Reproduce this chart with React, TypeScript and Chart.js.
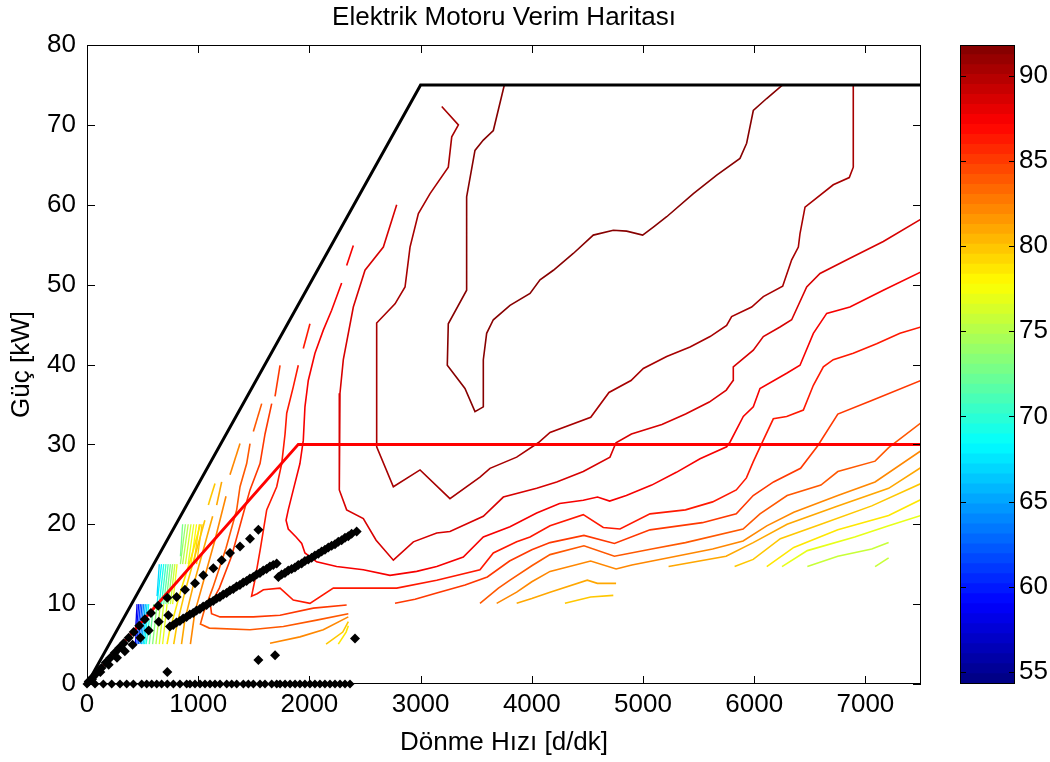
import React, { useEffect, useRef } from "react";
import { Chart, registerables } from "chart.js";
Chart.register(...registerables);

const FONT = "'Liberation Sans', Arial, Helvetica, sans-serif";
const FONT_SIZE = 26;
const TITLE = "Elektrik Motoru Verim Haritası";
const X_LABEL = "Dönme Hızı [d/dk]";
const Y_LABEL = "Güç [kW]";
const X_TICKS = [0, 1000, 2000, 3000, 4000, 5000, 6000, 7000];
const Y_TICKS = [0, 10, 20, 30, 40, 50, 60, 70, 80];
const CBAR_TICKS = [55, 60, 65, 70, 75, 80, 85, 90];
const CMIN = 54.3;
const CMAX = 91.8;

// envelopes (rpm, kW)
const maxPowerEnvelope = [[0, 0], [3000, 75], [7500, 75]];
const contPowerEnvelope = [[0, 0], [1900, 30], [7500, 30]];

// contour pieces (rpm, kW)
const cA = [[3753,75],[3654,69.3],[3564,68.1],[3489,66.8],[3414,61],[3414,49.3],[3249,45.1],[3240,39.9],[3399,37],[3489,34.1],[3564,34.7],[3564,40.6],[3594,43.9],[3654,45.6],[3804,47.4],[3984,48.9],[4074,50.6],[4194,51.8],[4373,53.9],[4553,56.2],[4733,56.8],[4853,56.7],[4997,56.2],[5093,57.2],[5213,58.5],[5453,61.4],[5663,63.7],[5872,65.8],[5932,67.7],[5992,71.8],[6112,73.3],[6256,75]];
const cB = [[6891,75],[6891,64.7],[6855,63.4],[6711,62.5],[6457,59.7],[6412,56.4],[6397,54.7],[6337,53.1],[6256,49.8],[6082,48.5],[5977,47.2],[5797,46],[5752,44.9],[5603,43.5],[5423,42.2],[5213,41],[5003,39.5],[4892,38],[4694,36.5],[4530,33.4],[4164,31.5],[4058,30.2],[3864,28.4],[3624,27],[3534,25.9],[3264,23.2],[2995,26.8],[2755,24.7],[2605,29.7],[2605,45.2],[2770,47.6],[2860,49.7],[2905,54.7],[2980,58.9],[3085,61.4],[3249,64.7],[3280,68.5],[3340,70],[3190,72.3]];
const cC = [[2785,60],[2665,54.7],[2500,51.8],[2395,47.2],[2305,40.6],[2275,36.4],[2269,30],[2269,24.3],[2335,21.8],[2485,20.7],[2600,18],[2755,15.5],[2935,17.8],[3145,18.9],[3264,19.1],[3564,21],[3744,23.4],[4044,24.5],[4224,25.3],[4463,26.6],[4703,28.4],[4757,30.2],[4896,31.3],[5170,32.5],[5383,33.8],[5596,35.3],[5749,36.8],[5810,38],[5812,39.7],[5992,41.8],[6082,43.5],[6232,44.7],[6337,45.6],[6472,49.7],[6592,51.4],[6861,53.3],[7161,55.4],[7500,58.2]];
const cD1 = [[2395,54.9],[2335,52.4]];
const cD2 = [[2290,50.2],[2200,46.8],[2125,44.3],[2050,41.4],[1990,38],[1960,34.7],[1945,30.5],[1915,27.6],[1855,24.3],[1810,21.8],[1790,20.5],[1810,19.4],[1880,18.4],[1931,17.6],[1960,16.4],[2065,15.3],[2245,14.7],[2485,14.3],[2725,13.6],[2965,14.1],[3145,14.7],[3384,15.9],[3564,18.4],[3804,19.7],[4044,21.4],[4250,22.6],[4463,23.0],[4591,23.4],[4700,22.9],[4850,23.6],[5078,24.9],[5300,26.5],[5513,28.2],[5752,29.7],[5783,30.3],[5902,33.5],[5992,34.7],[6052,37],[6292,38.9],[6412,39.9],[6532,43.9],[6652,46.4],[6861,47.2],[7161,49.3],[7500,51.6]];
const cE1 = [[2005,45.1],[1945,42]];
const cE2 = [[1900,39.9],[1855,37.2],[1796,33.9],[1781,31.3],[1751,27.6],[1706,24.7],[1616,21.8],[1560,17],[1510,13],[1480,11],[1530,11.3],[1586,11.8],[1736,12],[1855,10.5],[2005,10.1],[2215,12],[2785,12],[3145,13],[3534,14.3],[3654,16.4],[3864,17.8],[3984,18.4],[4164,19.8],[4463,21.2],[4643,19.6],[4793,19.4],[5063,21.3],[5382,21.8],[5626,22.8],[5839,24.3],[5930,25.8],[5991,27.8],[6067,30.1],[6172,33.2],[6292,33.5],[6442,34.3],[6532,37.4],[6622,39.7],[6711,40.6],[6891,41.4],[7101,42.6],[7311,43.9],[7500,44.7]];
const cF1 = [[1736,39.9],[1691,36]];
const cF2 = [[1661,35.1],[1601,31.3],[1556,27.6],[1466,24.3],[1409,21.5],[1300,16],[1190,12],[1110,9.9],[1120,8.8],[1196,8.4],[1496,8.4],[1736,8.6],[2035,9.5],[2335,9.9]];
const cF3 = [[2770,10.1],[2950,10.6],[3145,11.4],[3400,12.4],[3600,13.4],[3800,15.4],[4000,16.8],[4164,17.7],[4469,18.6],[4743,17.6],[5063,19.3],[5534,20.2],[5839,21.3],[5991,23.6],[6174,25.3],[6417,27],[6570,29.8],[6752,33.8],[7057,35.5],[7500,38]];
const cG1 = [[1571,35.1],[1496,31.6]];
const cG2 = [[1466,30.1],[1436,27.6],[1376,24.7],[1346,21.8],[1250,17],[1130,12],[1050,9],[1020,7.5],[1100,7],[1466,6.8],[1766,7.2],[2065,8],[2350,8.8]];
const cG3 = [[3534,10.1],[3700,12],[3804,13],[4000,14.8],[4164,16.2],[4469,17.3],[4743,16],[5078,16.9],[5382,17.7],[5900,19.4],[6052,21.3],[6296,23.6],[6600,24.9],[6752,26.6],[7087,27.9],[7209,29.6],[7500,32.7]];
const cH1 = [[1376,30.1],[1286,26.2]];
const cH2 = [[1250,23.5],[1150,18],[1050,13],[970,9],[930,5]];
const cH3 = [[1646,5.1],[1915,5.9],[2125,6.8],[2350,8.4]];
const cH4 = [[3684,10.1],[3864,11.5],[4000,12.8],[4164,14.1],[4529,15.4],[4758,14.4],[4900,14.9],[5230,15.8],[5626,16.9],[5900,17.9],[6113,19.8],[6356,21.5],[6752,23.6],[7087,25.3],[7500,29.2]];
const cI1 = [[1211,25.3],[1166,22.4]];
const cI2 = [[1130,21],[1050,17],[950,12],[880,8],[850,5]];
const cI3 = [[3864,10.1],[4000,10.7],[4164,11.5],[4499,13],[4590,12.6],[4758,12.6]];
const cI4 = [[5230,14.7],[5747,16],[5991,17.7],[6296,20.0],[6752,22.3],[7209,24.5],[7500,27.1]];
const cJ1 = [[1151,25.1],[1091,22.4]];
const cJ2 = [[1060,20.5],[980,16.5],[880,11.5],[810,7.5],[780,5]];
const cJ3 = [[4298,10.1],[4529,10.9],[4733,11.1]];
const cJ4 = [[5824,14.7],[5991,15.6],[6235,18.2],[6600,20.0],[7057,22.3],[7500,25.1]];
const cJ5 = [[2150,5],[2300,6.5],[2350,7.8]];
const cK1 = [[1020,20],[940,16],[850,12],[740,6.5],[720,5]];
const cK2 = [[6113,14.7],[6356,17.1],[6752,19.3],[7209,21.1],[7500,23.1]];
const cK3 = [[2260,5],[2330,6.5],[2350,7.3]];
const cL1 = [[6250,14.7],[6478,16.7],[6904,18.4],[7209,19.8],[7500,21.1]];
const cM1 = [[6478,14.7],[6752,16],[7057,16.9],[7209,17.7]];
const cM2 = [[7087,14.7],[7209,15.8]];

// contour level of each piece (efficiency, %)
const contourTable: [number, number[][]][] = [
  [91.4, cA], [90.1, cB], [88.8, cC],
  [87.5, cD1], [87.5, cD2],
  [86.2, cE1], [86.2, cE2],
  [84.9, cF1], [84.9, cF2], [84.9, cF3],
  [83.6, cG1], [83.6, cG2], [83.6, cG3],
  [82.3, cH1], [82.3, cH2], [82.3, cH3], [82.3, cH4],
  [81.0, cI1], [81.0, cI2], [81.0, cI3], [81.0, cI4],
  [79.7, cJ1], [79.7, cJ2], [79.7, cJ3], [79.7, cJ4], [79.7, cJ5],
  [78.4, cK1], [78.4, cK2], [78.4, cK3],
  [77.1, cL1], [75.8, cM1], [75.8, cM2],
];

// short contour segments in the low-speed corner cells: x0, y0, x1, y1, level
const cornerSegments = [
  [434,6,450,10,58],[434,5,465,10,59.5],[448,5,480,10,61],[462,5,495,10,62.5],[476,5,510,10,64],[490,5,525,10,65.5],[504,5,540,10,67],[518,5,555,10,68.5],[532,5,560,8,70],
  [560,5,600,10,72],[590,5,630,10,73.5],[620,5,660,10,75],[650,5,690,10,76],[680,5,720,10,77],
  [630,11,650,15,67],[630,10,670,15,68.2],[650,10,690,15,69.4],[670,10,710,15,70.6],[690,10,730,15,71.8],[710,10,750,15,73],[730,10,770,15,74.2],[750,10,790,15,75.4],[770,10,810,15,76.6],
  [840,16,860,20,73],[840,15,885,20,74],[860,15,910,20,75],[885,15,935,20,76],[910,15,960,20,77],[935,15,985,20,78],[960,15,1010,20,79],[985,15,1035,20,80],
];

// operating points (rpm, kW)
const zeroLoadSpeeds = [0,72,147,222,297,357,417,492,537,582,627,671,722,777,836,896,926,971,1016,1061,1106,1151,1196,1256,1301,1346,1406,1451,1496,1556,1601,1661,1706,1736,1781,1826,1871,1915,1960,2005,2050,2095,2140,2185,2230,2275,2320,2365];
const pointsUpper = [[15,0.3],[50,0.8],[90,1.4],[130,2.0],[170,2.7],[210,3.3],[250,3.9],[290,4.5],[330,5.1],[375,5.8],[420,6.5],[470,7.3],[520,8.1],[575,8.9],[641,9.8],[722,10.8],[806,10.9],[881,11.8],[971,12.6],[1046,13.6],[1136,14.5],[1211,15.5],[1286,16.4],[1376,17.2],[1466,18.2],[1541,19.3]];
const pointsLower = [[45,0.6],[120,1.5],[195,2.4],[270,3.3],[340,4.1],[410,4.9],[480,5.8],[555,6.7],[645,7.8],[731,8.6]];
const pointsBandA = [[746,7.2],[775,7.4],[805,7.7],[835,7.9],[865,8.2],[895,8.4],[925,8.7],[955,8.9],[985,9.2],[1015,9.4],[1045,9.7],[1075,9.9],[1105,10.2],[1135,10.4],[1165,10.7],[1195,10.9],[1225,11.2],[1255,11.4],[1285,11.7],[1315,11.9],[1345,12.2],[1375,12.4],[1405,12.7],[1435,12.9],[1465,13.2],[1495,13.4],[1525,13.7],[1555,13.9],[1585,14.2],[1615,14.4],[1645,14.7],[1675,14.9],[1706,15.1]];
const pointsBandB = [[1721,13.4],[1750,13.7],[1780,13.9],[1810,14.2],[1840,14.4],[1870,14.6],[1900,14.9],[1930,15.1],[1960,15.4],[1990,15.6],[2020,15.8],[2050,16.1],[2080,16.3],[2110,16.6],[2140,16.8],[2170,17.1],[2200,17.3],[2230,17.5],[2260,17.8],[2290,18.0],[2320,18.3],[2350,18.5],[2380,18.8],[2425,19.1]];
const pointsSingle = [[722,1.5],[1541,3.0],[1691,3.6],[2410,5.7]];

function jet(v: number): string {
  const t = (v - CMIN) / (CMAX - CMIN);
  const i = Math.max(0, Math.min(63, Math.floor(t * 64)));
  const s = (i + 0.5) / 64;
  const c = (u: number) => Math.round(255 * Math.max(0, Math.min(1, u)));
  return `rgb(${c(1.5 - Math.abs(4 * s - 3))},${c(1.5 - Math.abs(4 * s - 2))},${c(1.5 - Math.abs(4 * s - 1))})`;
}

const toXY = (arr: number[][]) => arr.map(([x, y]) => ({ x, y }));

const boxPlugin = {
  id: "boxTicks",
  afterDraw(chart: any) {
    const { ctx, chartArea: a, scales } = chart;
    ctx.save();
    ctx.fillStyle = "#000";
    ctx.font = `${FONT_SIZE}px ${FONT}`;
    ctx.textAlign = "center";
    ctx.textBaseline = "middle";
    ctx.fillText(TITLE, (a.left + a.right) / 2, 18);
    ctx.strokeStyle = "#000";
    ctx.lineWidth = 1;
    ctx.strokeRect(a.left + 0.5, a.top + 0.5, a.right - a.left - 1, a.bottom - a.top - 1);
    const L = 8;
    ctx.beginPath();
    X_TICKS.forEach((v) => {
      const x = Math.round(scales.x.getPixelForValue(v)) + 0.5;
      ctx.moveTo(x, a.bottom); ctx.lineTo(x, a.bottom - L);
      ctx.moveTo(x, a.top); ctx.lineTo(x, a.top + L);
    });
    Y_TICKS.forEach((v) => {
      const y = Math.round(scales.y.getPixelForValue(v)) + 0.5;
      ctx.moveTo(a.left, y); ctx.lineTo(a.left + L, y);
      ctx.moveTo(a.right, y); ctx.lineTo(a.right - L, y);
    });
    ctx.stroke();
    ctx.restore();
  },
};

const cbarPlugin = {
  id: "cbarBox",
  afterDraw(chart: any) {
    const { ctx, chartArea: a, scales } = chart;
    ctx.save();
    ctx.strokeStyle = "#000";
    ctx.lineWidth = 1;
    ctx.strokeRect(a.left + 0.5, a.top + 0.5, a.right - a.left - 1, a.bottom - a.top - 1);
    ctx.beginPath();
    CBAR_TICKS.forEach((v) => {
      const y = Math.round(scales.y.getPixelForValue(v)) + 0.5;
      ctx.moveTo(a.left, y); ctx.lineTo(a.left + 6, y);
      ctx.moveTo(a.right, y); ctx.lineTo(a.right - 6, y);
    });
    ctx.stroke();
    ctx.restore();
  },
};

export default function App() {
  const mainRef = useRef<HTMLCanvasElement>(null);
  const cbarRef = useRef<HTMLCanvasElement>(null);

  useEffect(() => {
    const tickFont = { family: FONT, size: FONT_SIZE };
    const scatterStyle = (data: number[][], r: number) => ({
      data: toXY(data),
      showLine: false,
      pointStyle: "rectRot",
      pointRadius: r,
      pointBackgroundColor: "#000",
      pointBorderColor: "#000",
      pointBorderWidth: 0,
      clip: false as any,
      order: 0,
    });
    const datasets: any[] = [
      scatterStyle(zeroLoadSpeeds.map((x) => [x, 0]), 4.5),
      scatterStyle(pointsUpper, 5),
      scatterStyle(pointsLower, 5),
      scatterStyle(pointsBandA, 5),
      scatterStyle(pointsBandB, 5),
      scatterStyle(pointsSingle, 5),
      { data: toXY(maxPowerEnvelope), showLine: true, borderColor: "#000", borderWidth: 3, pointRadius: 0, order: 1 },
      { data: toXY(contPowerEnvelope), showLine: true, borderColor: "#ff0000", borderWidth: 3, pointRadius: 0, order: 1 },
    ];
    contourTable.forEach(([lvl, arr]) => {
      datasets.push({ data: toXY(arr), showLine: true, borderColor: jet(lvl), borderWidth: 1.6, pointRadius: 0, order: 2 });
    });
    cornerSegments.forEach(([x0, y0, x1, y1, lvl]) => {
      datasets.push({ data: [{ x: x0, y: y0 }, { x: x1, y: y1 }], showLine: true, borderColor: jet(lvl), borderWidth: 1.3, pointRadius: 0, order: 2 });
    });

    const main = new Chart(mainRef.current!, {
      type: "scatter",
      data: { datasets },
      options: {
        animation: false,
        responsive: false,
        devicePixelRatio: 1,
        layout: { padding: { left: 0, right: 129, top: 45, bottom: 0 } },
        plugins: { legend: { display: false }, tooltip: { enabled: false }, title: { display: false } },
        scales: {
          x: {
            type: "linear", min: 0, max: 7500,
            afterBuildTicks: (s: any) => { s.ticks = X_TICKS.map((v) => ({ value: v })); },
            afterFit: (s: any) => { s.height = 78; },
            grid: { display: false, drawTicks: false },
            border: { display: false },
            ticks: { color: "#000", font: tickFont, padding: 5, maxRotation: 0, autoSkip: false, callback: (v: any) => String(v) },
            title: { display: true, text: X_LABEL, color: "#000", font: tickFont, padding: { top: 0, bottom: 4 } },
          },
          y: {
            type: "linear", min: 0, max: 80,
            afterBuildTicks: (s: any) => { s.ticks = Y_TICKS.map((v) => ({ value: v })); },
            afterFit: (s: any) => { s.width = 87; },
            grid: { display: false, drawTicks: false },
            border: { display: false },
            ticks: { color: "#000", font: tickFont, padding: 11, autoSkip: false, callback: (v: any) => String(v) },
            title: { display: true, text: Y_LABEL, color: "#000", font: tickFont, padding: { top: 6, bottom: 0 } },
          },
        },
      },
      plugins: [boxPlugin],
    } as any);

    const N = 64;
    const step = (CMAX - CMIN) / N;
    const cbDatasets = Array.from({ length: N }, (_, i) => ({
      data: [[CMIN + i * step, Math.min(CMAX, CMIN + (i + 1) * step + 0.03)]],
      backgroundColor: jet(CMIN + (i + 0.5) * step),
      borderWidth: 0,
      barPercentage: 1,
      categoryPercentage: 1,
      grouped: false,
    }));
    const cbar = new Chart(cbarRef.current!, {
      type: "bar",
      data: { labels: [""], datasets: cbDatasets },
      options: {
        animation: false,
        responsive: false,
        devicePixelRatio: 1,
        layout: { padding: { left: 20, right: 0, top: 45, bottom: 78 } },
        plugins: { legend: { display: false }, tooltip: { enabled: false } },
        scales: {
          x: { display: false },
          y: {
            position: "right", min: CMIN, max: CMAX,
            afterBuildTicks: (s: any) => { s.ticks = CBAR_TICKS.map((v) => ({ value: v })); },
            afterFit: (s: any) => { s.width = 35; },
            grid: { display: false, drawTicks: false },
            border: { display: false },
            ticks: { color: "#000", font: tickFont, padding: 4, autoSkip: false, callback: (v: any) => String(v) },
          },
        },
      },
      plugins: [cbarPlugin],
    } as any);

    return () => { main.destroy(); cbar.destroy(); };
  }, []);

  return (
    <div style={{ position: "fixed", left: 0, top: 0, width: 1050, height: 762, background: "#fff" }}>
      <canvas ref={mainRef} width={1050} height={762} style={{ position: "absolute", left: 0, top: 0, width: 1050, height: 762 }} />
      <canvas ref={cbarRef} width={110} height={762} style={{ position: "absolute", left: 940, top: 0, width: 110, height: 762 }} />
    </div>
  );
}
